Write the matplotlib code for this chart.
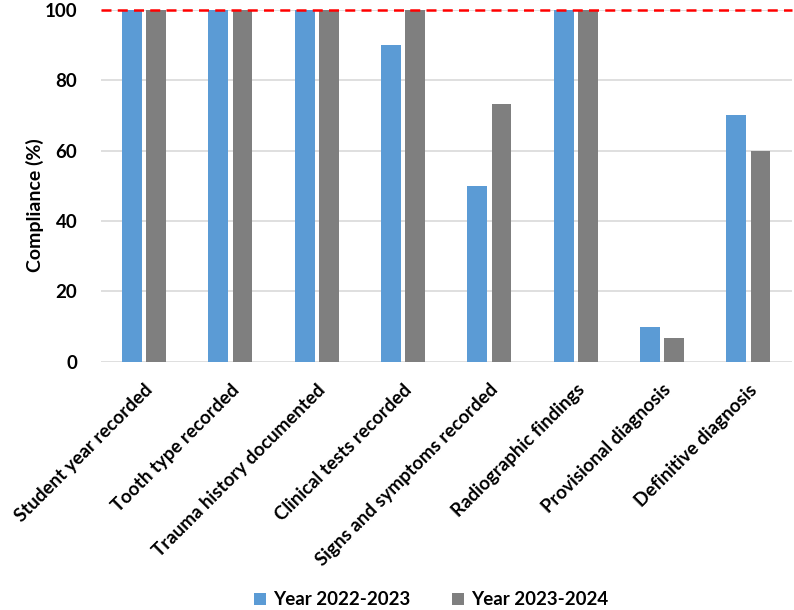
import matplotlib
matplotlib.use("Agg")
import matplotlib.pyplot as plt
import numpy as np

plt.rcParams['font.family'] = ['Lato', 'DejaVu Sans']

categories = ["Student year recorded", "Tooth type recorded", "Trauma history documented",
              "Clinical tests recorded", "Signs and symptoms recorded", "Radiographic findings",
              "Provisional diagnosis", "Definitive diagnosis"]
year_2022 = [100, 100, 100, 90, 50, 100, 10, 70]
year_2023 = [100, 100, 100, 100, 73.3, 100, 6.67, 60]
yticks = [0, 20, 40, 60, 80, 100]

blue = '#5B9BD5'
gray = '#7F7F7F'

fig = plt.figure(figsize=(7.94, 6.10), dpi=100)
ax = fig.add_axes([0.127, 0.407, 0.870, 0.577])

x = np.arange(len(categories))
w = 0.23
gap = 0.025
ax.bar(x - w / 2 - gap, year_2022, w, color=blue, label='Year 2022-2023', zorder=3)
ax.bar(x + w / 2 + gap, year_2023, w, color=gray, label='Year 2023-2024', zorder=3)

# target line at 100 %
ax.axhline(100, color='#FF0000', linestyle=(0, (4, 2.5)), linewidth=1.8, zorder=4, clip_on=False)

ax.set_xlim(-0.5, len(categories) - 0.5)
ax.set_ylim(0, 100)
ax.set_yticks(yticks)
ax.set_yticklabels([str(t) for t in yticks], fontsize=13.5, fontweight='bold')
ax.yaxis.grid(True, color='#D9D9D9', linewidth=1.2, zorder=0)
ax.set_axisbelow(True)
ax.tick_params(axis='both', length=0)
ax.tick_params(axis='y', pad=17)
for s in ax.spines.values():
    s.set_visible(False)

ax.set_xticks(x)
ax.set_xticklabels(categories, rotation=45, ha='right', rotation_mode='anchor',
                   fontsize=13.5, fontweight='bold')
ax.tick_params(axis='x', pad=14)

ax.set_ylabel('Compliance (%)', fontsize=14, fontweight='bold')
ax.yaxis.set_label_coords(-0.083, 0.446)

fig.legend(loc='lower center', bbox_to_anchor=(0.543, -0.025), ncol=2, frameon=False,
           prop={'weight': 'bold', 'size': 13.5},
           handlelength=0.65, handleheight=0.65, handletextpad=0.4, columnspacing=2.2)

fig.savefig('out.png', dpi=100)
